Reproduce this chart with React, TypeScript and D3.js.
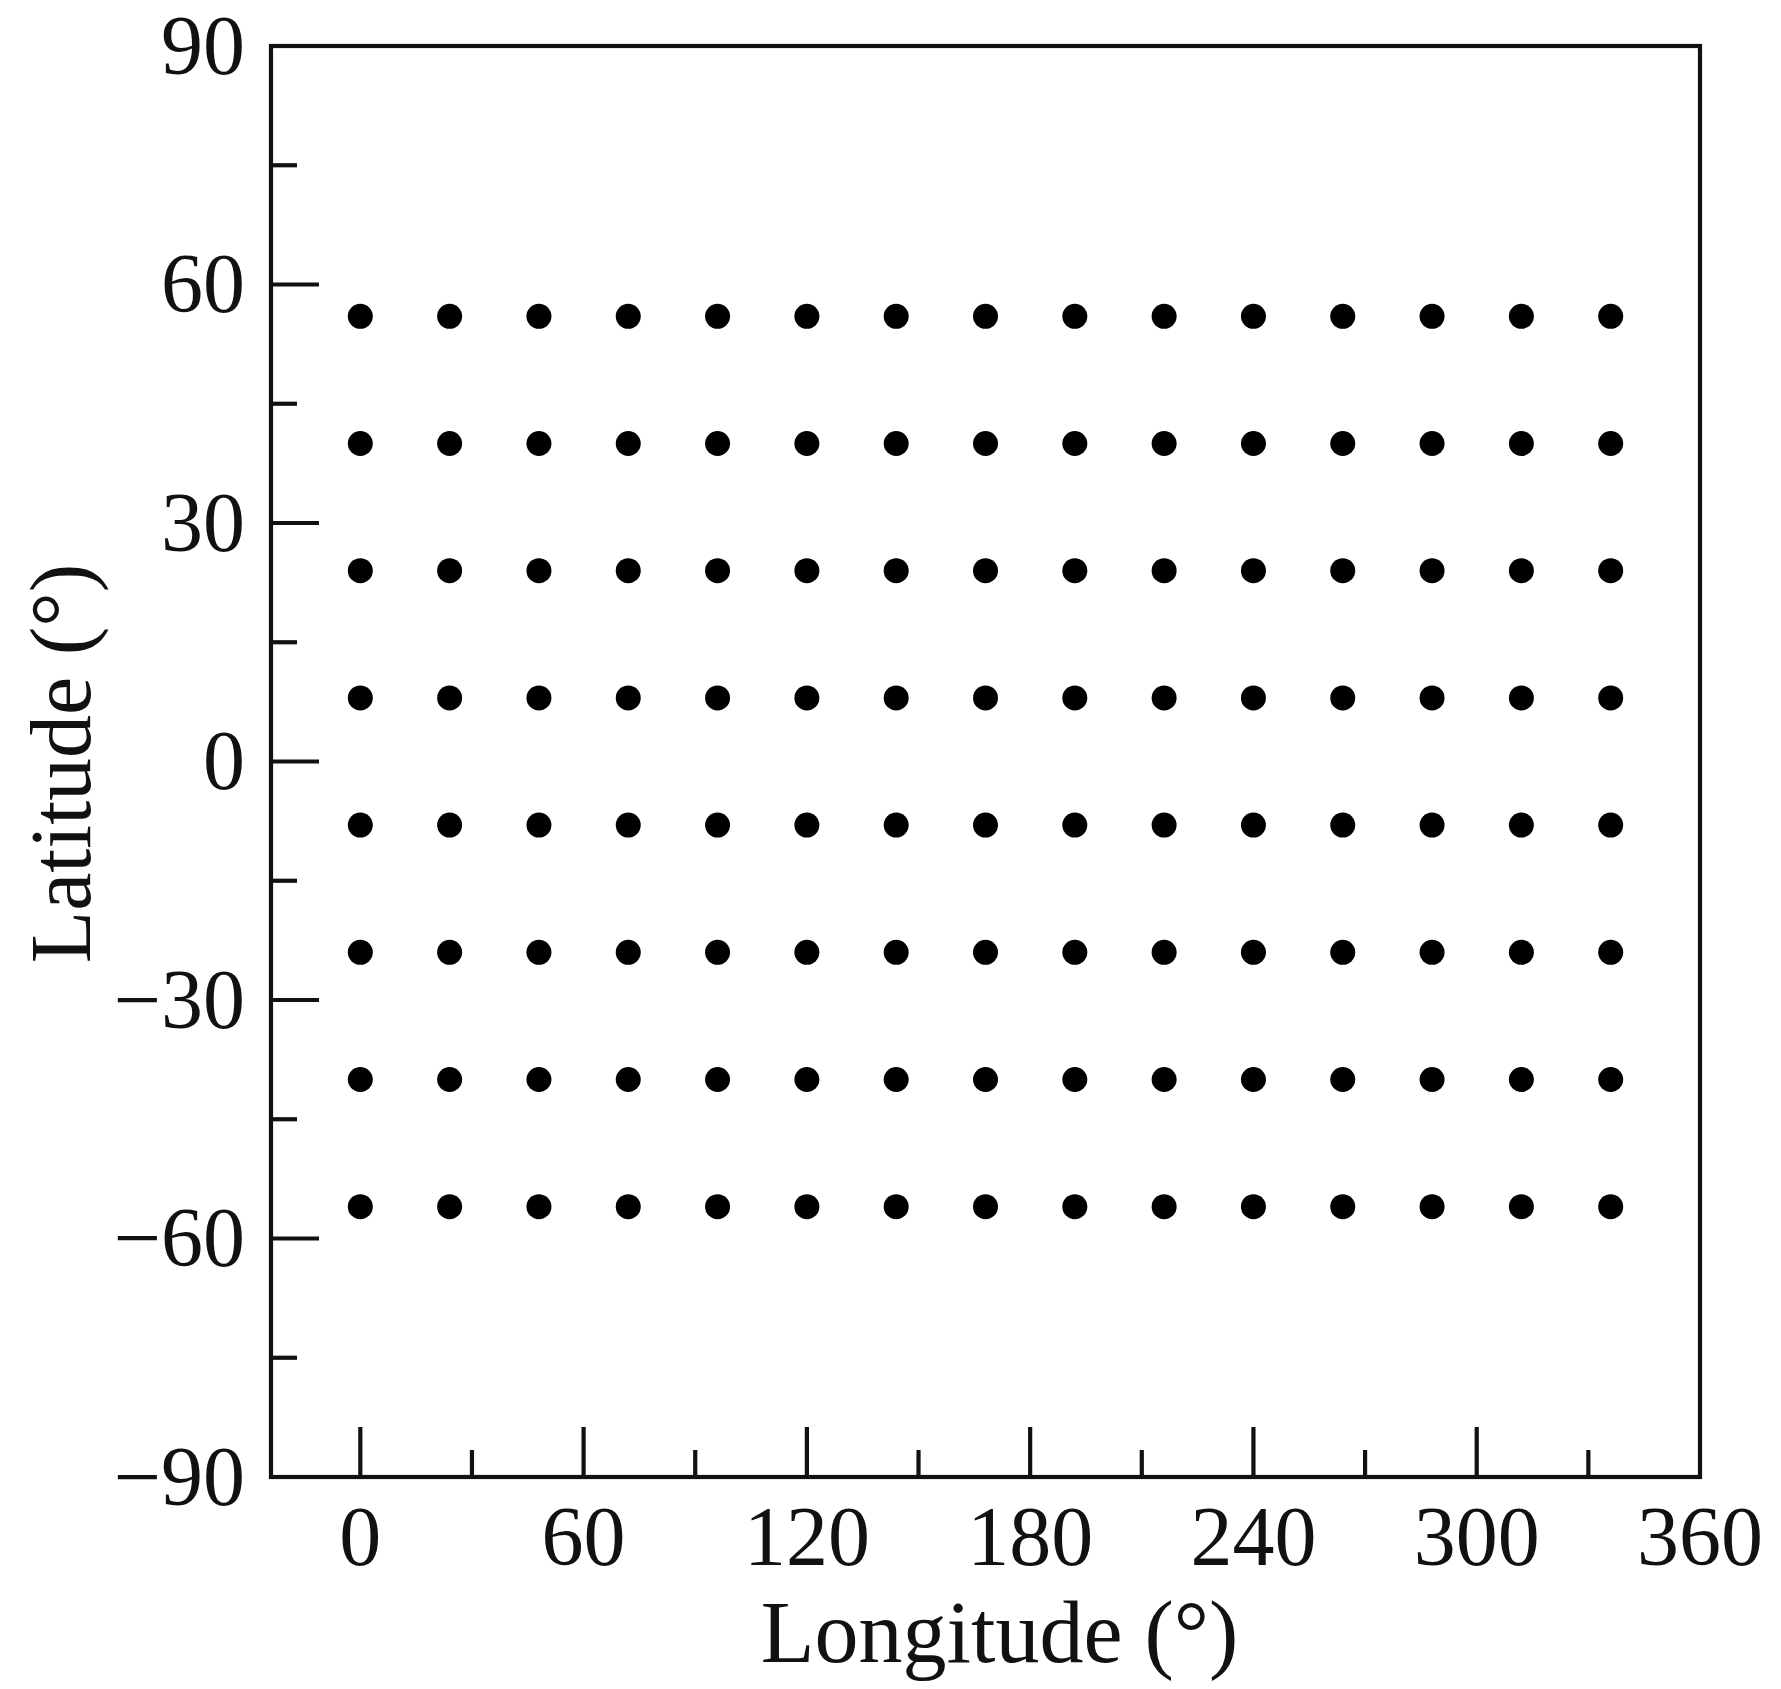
import React from "react";
import * as d3 from "d3";

const longitudes = [0, 24, 48, 72, 96, 120, 144, 168, 192, 216, 240, 264, 288, 312, 336];
const latitudes = [56, 40, 24, 8, -8, -24, -40, -56];
const xMajorTicks = [0, 60, 120, 180, 240, 300, 360];
const xMinorTicks = [30, 90, 150, 210, 270, 330];
const yMajorTicks = [-90, -60, -30, 0, 30, 60, 90];
const yMinorTicks = [-75, -45, -15, 15, 45, 75];
const xDomain = [-24, 360];
const yDomain = [-90, 90];

const W = 1781;
const H = 1689;
const left = 271;
const right = 1700;
const top = 46;
const bottom = 1477;
const SW = 4.2;

const fmt = (v: number) => (v < 0 ? "\u2212" + Math.abs(v) : String(v));

export default function App() {
  const x = d3.scaleLinear().domain(xDomain).range([left, right]);
  const y = d3.scaleLinear().domain(yDomain).range([bottom, top]);
  const font = "'Liberation Serif', 'Times New Roman', serif";
  const points = latitudes.flatMap((lat) => longitudes.map((lon) => ({ lon, lat })));
  return (
    <svg
      width={W}
      height={H}
      style={{ position: "absolute", left: 0, top: 0, background: "#fff" }}
      fontFamily={font}
    >
      <rect x={0} y={0} width={W} height={H} fill="#fff" />
      {yMajorTicks.filter((t) => t !== 90 && t !== -90).map((t) => (
        <line key={"ym" + t} x1={left} x2={left + 48} y1={y(t)} y2={y(t)} stroke="#111" strokeWidth={SW} />
      ))}
      {yMinorTicks.map((t) => (
        <line key={"yn" + t} x1={left} x2={left + 26} y1={y(t)} y2={y(t)} stroke="#111" strokeWidth={SW} />
      ))}
      {xMajorTicks.filter((t) => t !== 360).map((t) => (
        <line key={"xm" + t} x1={x(t)} x2={x(t)} y1={bottom} y2={bottom - 50} stroke="#111" strokeWidth={SW} />
      ))}
      {xMinorTicks.map((t) => (
        <line key={"xn" + t} x1={x(t)} x2={x(t)} y1={bottom} y2={bottom - 27} stroke="#111" strokeWidth={SW} />
      ))}
      <rect
        x={x(xDomain[0])}
        y={y(yDomain[1])}
        width={x(xDomain[1]) - x(xDomain[0])}
        height={y(yDomain[0]) - y(yDomain[1])}
        fill="none"
        stroke="#111"
        strokeWidth={SW}
      />
      {yMajorTicks.map((t) => (
        <text
          key={"yl" + t}
          x={left - 26}
          y={y(t)}
          dy="0.33em"
          textAnchor="end"
          fontSize={84}
          fill="#111"
        >
          {fmt(t)}
        </text>
      ))}
      {xMajorTicks.map((t) => (
        <text key={"xl" + t} x={x(t)} y={bottom + 88} textAnchor="middle" fontSize={84} fill="#111">
          {fmt(t)}
        </text>
      ))}
      {points.map((p, i) => (
        <circle key={i} cx={x(p.lon)} cy={y(p.lat)} r={12.5} fill="#000" />
      ))}
      <text x={(left + right) / 2 + 14} y={1662} textAnchor="middle" fontSize={88} fill="#111">
        Longitude (°)
      </text>
      <text
        transform={`translate(90, ${(top + bottom) / 2 + 2}) rotate(-90)`}
        textAnchor="middle"
        fontSize={86}
        fill="#111"
      >
        Latitude (°)
      </text>
    </svg>
  );
}
